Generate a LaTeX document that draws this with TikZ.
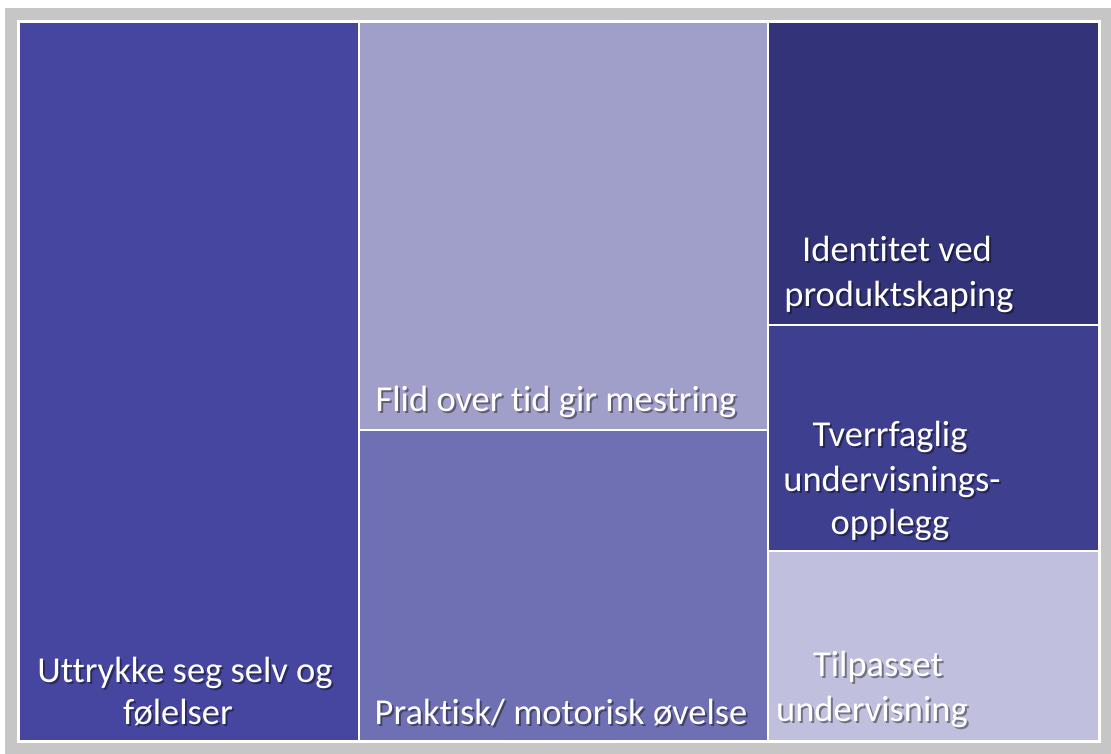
\documentclass[tikz,border=0pt]{standalone}
\usepackage{fontspec}
\setmainfont{Carlito}[Ligatures=NoCommon]
\definecolor{cA}{HTML}{4646A0}
\definecolor{cB}{HTML}{A09FCA}
\definecolor{cC}{HTML}{6F6FB4}
\definecolor{cD}{HTML}{33337A}
\definecolor{cE}{HTML}{3F3F90}
\definecolor{cF}{HTML}{C0BFDD}
\definecolor{frameg}{HTML}{DEDEDE}
\definecolor{frameedge}{HTML}{C6C6C6}
\tikzset{
  tile/.style={draw=white, line width=1.5pt},
  txt/.style={anchor=base, text=white, inner sep=0pt, font=\fontsize{36.5}{40}\selectfont},
  shd/.style={anchor=base, text=black, opacity=0.4, inner sep=0pt, font=\fontsize{36.5}{40}\selectfont},
}
\begin{document}
\begin{tikzpicture}[x=1pt,y=-1pt]
\useasboundingbox (0,0) rectangle (1111,753);
\fill[white] (0,0) rectangle (1111,753);
\shade[inner color=frameg, outer color=frameedge] (5,8) rectangle (1111,753);
\fill[white] (17,20) rectangle (1101,743);
% tiles
\path[tile, fill=cA] (19.5,22.5) coordinate (a1) rectangle (358.5,740.5) coordinate (a2);
\path[tile, fill=cB] (359.5,22.5) coordinate (b1) rectangle (767.5,429.5) coordinate (b2);
\path[tile, fill=cC] (359.5,430.5) coordinate (c1) rectangle (767.5,740.5) coordinate (c2);
\path[tile, fill=cD] (768.5,22.5) coordinate (d1) rectangle (1098.5,324.5) coordinate (d2);
\path[tile, fill=cE] (768.5,325.5) coordinate (e1) rectangle (1098.5,550.5) coordinate (e2);
\path[tile, fill=cF] (768.5,551.5) coordinate (f1) rectangle (1098.5,740.5) coordinate (f2);
% labels
\newcommand{\lbl}[4]{%
  \node[shd] at (#2+2,#3+2) {#4};
  \node[txt] (#1) at (#2,#3) {#4};}
\lbl{a1t}{185}{682}{Uttrykke seg selv og}
\lbl{a2t}{178}{724}{følelser}
\lbl{bt}{556}{411}{Flid over tid gir mestring}
\lbl{ct}{561}{724}{Praktisk/ motorisk øvelse}
\lbl{d1t}{897}{261}{Identitet ved}
\lbl{d2t}{899}{306}{produktskaping}
\lbl{e1t}{890}{446}{Tverrfaglig}
\lbl{e2t}{892}{491}{undervisnings-}
\lbl{e3t}{890}{534}{opplegg}
\lbl{f1t}{878}{676}{Tilpasset}
\lbl{f2t}{872}{721}{undervisning}
\end{tikzpicture}
\end{document}
